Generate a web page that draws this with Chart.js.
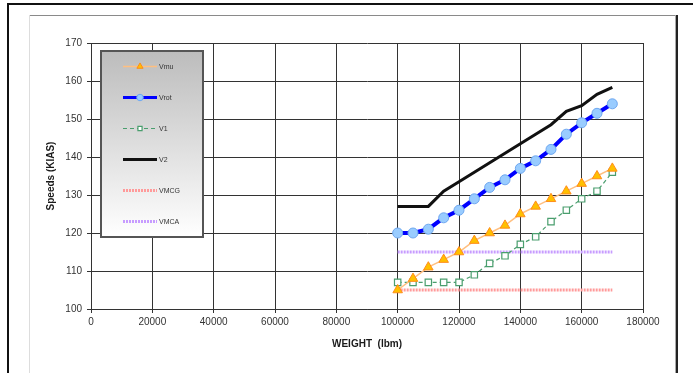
<!DOCTYPE html>
<html>
<head>
<meta charset="utf-8">
<script src="https://cdn.jsdelivr.net/npm/chart.js@4/dist/chart.umd.min.js"></script>
<style>
  html, body { margin: 0; padding: 0; background: #fff; overflow: hidden; }
  canvas { display: block; }
</style>
</head>
<body>
<canvas id="c" width="693" height="373"></canvas>
<script>
// Takeoff speeds versus gross weight
const weights = [100000, 105000, 110000, 115000, 120000, 125000, 130000, 135000,
                 140000, 145000, 150000, 155000, 160000, 165000, 170000];
const vmu  = [105, 108, 111, 113, 115, 118, 120, 122, 125, 127, 129, 131, 133, 135, 137];
const vrot = [120, 120, 121, 124, 126, 129, 132, 134, 137, 139, 142, 146, 149, 151.5, 154];
const v1   = [107, 107, 107, 107, 107, 109, 112, 114, 117, 119, 123, 126, 129, 131, 136];
const v2   = [127, 127, 127, 131, 133.5, 136, 138.5, 141, 143.5, 146, 148.5, 152, 153.5, 156.5, 158.3];
const vmcg = [105, 105, 105, 105, 105, 105, 105, 105, 105, 105, 105, 105, 105, 105, 105];
const vmca = [115, 115, 115, 115, 115, 115, 115, 115, 115, 115, 115, 115, 115, 115, 115];

const seriesNames = ['Vmu', 'Vrot', 'V1', 'V2', 'VMCG', 'VMCA'];
const xAxisTitle = 'WEIGHT  (lbm)';
const yAxisTitle = 'Speeds (KIAS)';
const xTickStep = 20000;
const yTickStep = 10;

const FONT = '"Liberation Sans", Arial, sans-serif';

function pts(ys) { return weights.map((w, i) => ({ x: w, y: ys[i] })); }

const datasets = [
  { label: seriesNames[0], data: pts(vmu), borderColor: '#ffbf80', borderWidth: 1.5,
    pointStyle: 'triangle', pointRadius: 5.5, pointBackgroundColor: '#ffc000',
    pointBorderColor: '#ff8c1a', pointBorderWidth: 1 },
  { label: seriesNames[1], data: pts(vrot), borderColor: '#0000ff', borderWidth: 4,
    pointStyle: 'circle', pointRadius: 5, pointBackgroundColor: '#99ccff',
    pointBorderColor: '#6fa8f0', pointBorderWidth: 1 },
  { label: seriesNames[2], data: pts(v1), borderColor: '#4a9e6e', borderWidth: 1.2,
    borderDash: [4, 3], pointStyle: 'rect', pointRadius: 4.5, pointBackgroundColor: '#ffffff',
    pointBorderColor: '#4a9e6e', pointBorderWidth: 1.2 },
  { label: seriesNames[3], data: pts(v2), borderColor: '#111111', borderWidth: 3, pointRadius: 0 },
  { label: seriesNames[4], data: pts(vmcg), borderColor: '#ff9a9a', borderWidth: 3,
    borderDash: [2, 1], pointRadius: 0 },
  { label: seriesNames[5], data: pts(vmca), borderColor: '#c79cff', borderWidth: 3,
    borderDash: [2, 1], pointRadius: 0 }
];

// Page frame behind the chart
const framePlugin = {
  id: 'frame',
  beforeDraw(chart) {
    const ctx = chart.ctx;
    ctx.save();
    ctx.fillStyle = '#ffffff';
    ctx.fillRect(0, 0, chart.width, chart.height);
    // outer black frame
    ctx.fillStyle = '#111';
    ctx.fillRect(7, 3, chart.width - 7, 2);
    ctx.fillRect(7, 3, 2, chart.height - 3);
    // inner chart-area frame
    ctx.fillStyle = '#8a8a8a';
    ctx.fillRect(29, 15, 648, 1);
    ctx.fillStyle = '#dddddd';
    ctx.fillRect(29, 15, 1, chart.height - 15);
    ctx.fillStyle = '#aaaaaa';
    ctx.fillRect(675, 15, 1, chart.height - 15);
    ctx.fillStyle = '#222';
    ctx.fillRect(676, 15, 2, chart.height - 15);
    ctx.restore();
  }
};

// Axis titles and the boxed legend
const overlayPlugin = {
  id: 'overlay',
  afterDraw(chart) {
    const ctx = chart.ctx;
    const area = chart.chartArea;
    ctx.save();
    ctx.fillStyle = '#1a1a1a';
    ctx.font = 'bold 10px ' + FONT;
    ctx.textAlign = 'center';
    ctx.textBaseline = 'middle';
    ctx.fillText(xAxisTitle, (area.left + area.right) / 2, 344);
    ctx.save();
    ctx.translate(51, (area.top + area.bottom) / 2);
    ctx.rotate(-Math.PI / 2);
    ctx.fillText(yAxisTitle, 0, 0);
    ctx.restore();

    // legend box
    const bx = 101, by = 51, bw = 102, bh = 186;
    const g = ctx.createLinearGradient(0, by, 0, by + bh);
    g.addColorStop(0, '#bcbcbc');
    g.addColorStop(1, '#ffffff');
    ctx.fillStyle = g;
    ctx.fillRect(bx, by, bw, bh);
    ctx.strokeStyle = '#555';
    ctx.lineWidth = 2;
    ctx.strokeRect(bx, by, bw, bh);

    const rowY0 = 66.5, rowStep = 31;
    chart.data.datasets.forEach((ds, i) => {
      const y = rowY0 + i * rowStep;
      ctx.save();
      ctx.strokeStyle = ds.borderColor;
      ctx.lineWidth = Math.min(ds.borderWidth, 3);
      ctx.setLineDash(ds.borderDash || []);
      ctx.beginPath();
      ctx.moveTo(123, y);
      ctx.lineTo(157, y);
      ctx.stroke();
      ctx.setLineDash([]);
      if (ds.pointRadius > 0) {
        ctx.fillStyle = ds.pointBackgroundColor;
        ctx.strokeStyle = ds.pointBorderColor;
        ctx.lineWidth = ds.pointBorderWidth;
        Chart.helpers.drawPoint(ctx, {
          pointStyle: ds.pointStyle, radius: ds.pointRadius * 0.65,
          rotation: 0, borderWidth: ds.pointBorderWidth
        }, 140, y);
      }
      ctx.restore();
      ctx.fillStyle = '#333';
      ctx.font = '7px ' + FONT;
      ctx.textAlign = 'left';
      ctx.textBaseline = 'middle';
      ctx.fillText(ds.label, 159, y + 0.5);
    });
    ctx.restore();
  }
};

const gridStyle = { color: '#333333', lineWidth: 1, tickLength: 4, drawTicks: true };

new Chart(document.getElementById('c'), {
  type: 'line',
  data: { datasets },
  options: {
    responsive: false,
    animation: false,
    devicePixelRatio: 1,
    layout: { padding: { left: 0, right: 50, top: 43, bottom: 0 } },
    plugins: { legend: { display: false }, tooltip: { enabled: false } },
    elements: { line: { tension: 0 } },
    scales: {
      x: {
        type: 'linear', min: 0, max: 180000,
        grid: gridStyle,
        border: { color: '#333333', width: 1 },
        ticks: {
          stepSize: xTickStep, color: '#333', padding: 3,
          font: { family: FONT, size: 10 },
          maxRotation: 0, autoSkip: false,
          callback: v => String(v)
        },
        afterFit(s) { s.height = 64; }
      },
      y: {
        type: 'linear', min: 100, max: 170,
        grid: gridStyle,
        border: { color: '#333333', width: 1 },
        ticks: {
          stepSize: yTickStep, color: '#333', padding: 5,
          font: { family: FONT, size: 10 },
          callback: v => String(v)
        },
        afterFit(s) { s.width = 91; }
      }
    }
  },
  plugins: [framePlugin, overlayPlugin]
});
</script>
</body>
</html>
